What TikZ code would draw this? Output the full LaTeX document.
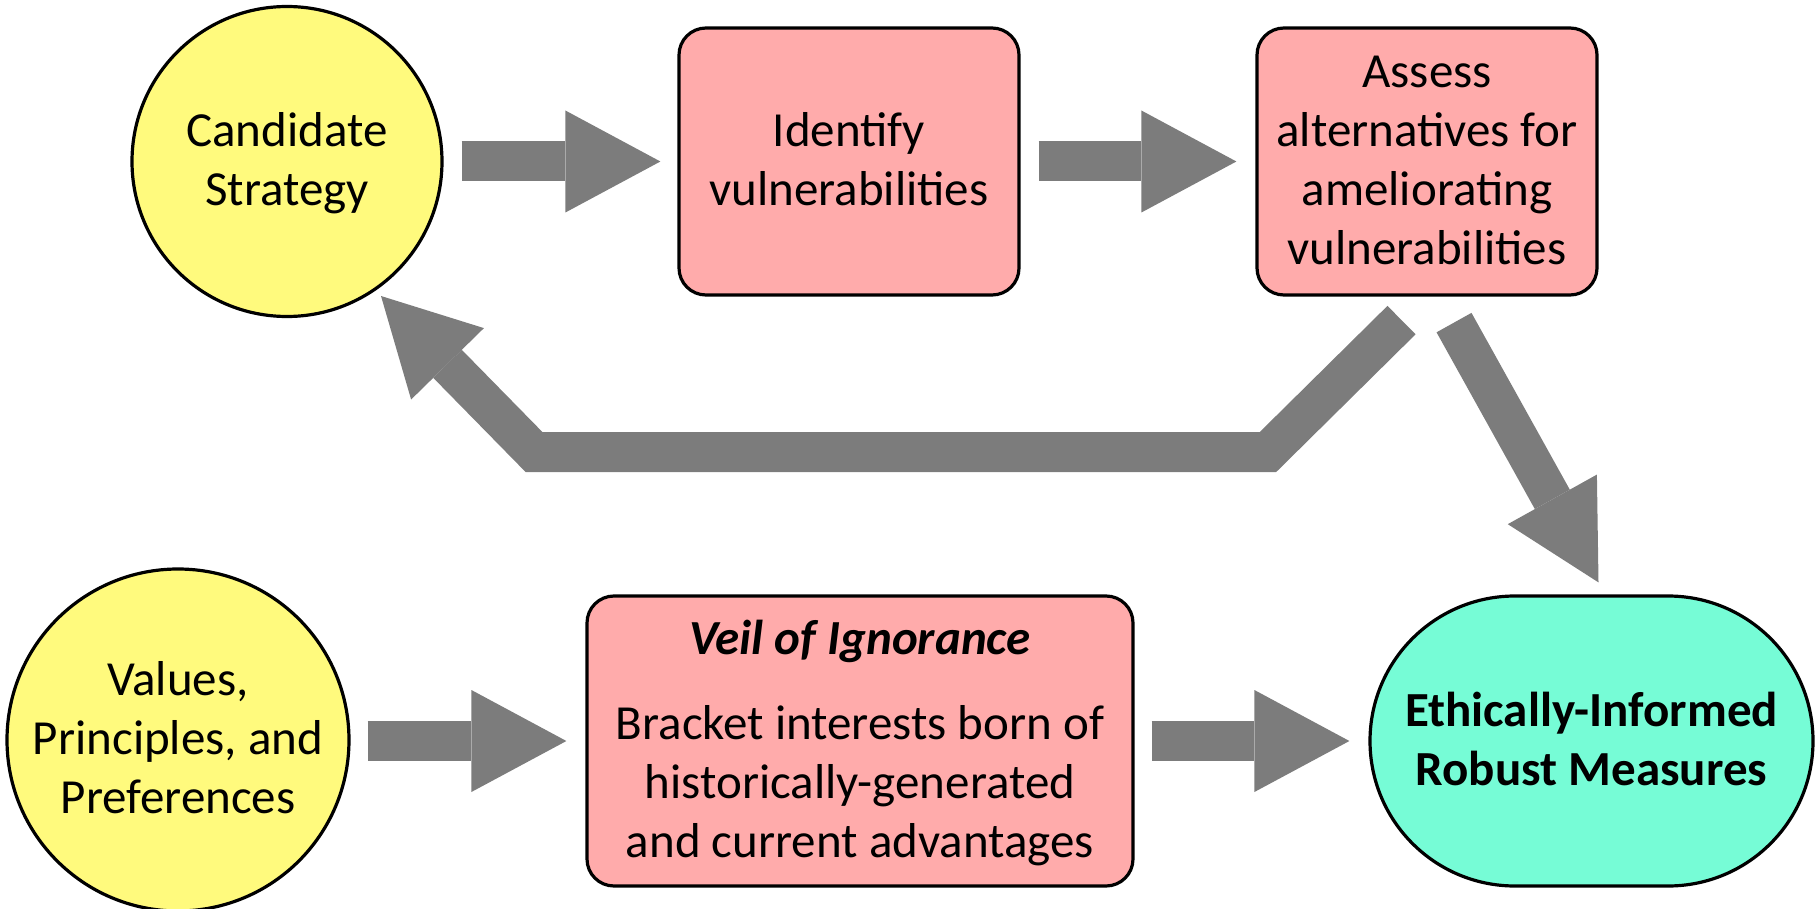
\documentclass[tikz,border=0pt]{standalone}
\usepackage{fontspec}
\setmainfont{Carlito}
\usetikzlibrary{arrows.meta,shapes.misc,calc}

\definecolor{candyellow}{RGB}{255,250,125}
\definecolor{steppink}{RGB}{255,171,171}
\definecolor{outcomegreen}{RGB}{118,252,214}
\definecolor{flowgray}{RGB}{124,124,124}

% uniform line box: 44pt above and 15pt below the baseline
\newcommand\lstrut{\rule[-15pt]{0pt}{59pt}}

\tikzset{
  shapebase/.style={draw=black, line width=3.2pt, inner sep=0pt, align=center,
    font=\fontsize{49}{59}\selectfont},
  roundnode/.style={shapebase, circle, fill=candyellow},
  stepbox/.style={shapebase, rectangle, rounded corners=27pt, fill=steppink},
  outcome/.style={shapebase, rounded rectangle, fill=outcomegreen,
    font=\fontsize{49}{59}\selectfont\bfseries},
  flow/.style={draw=flowgray, line width=40pt, line join=miter,
    -{Triangle[length=95pt,width=102pt,line width=0pt]}},
}

\begin{document}
\begin{tikzpicture}[x=1pt,y=-1pt]
\useasboundingbox (0,0) rectangle (1817,909);

% upper loop
\node[roundnode, minimum size=310pt] (cand) at (287,161.5)
  {\lstrut Candidate\\\lstrut Strategy};
\node[stepbox, minimum width=340pt, minimum height=267pt] (ident) at (849,161.5)
  {\lstrut Identify\\\lstrut vulnerabilities};
\node[stepbox, minimum width=340pt, minimum height=267pt] (assess) at (1427,161.5)
  {\lstrut Assess\\\lstrut alternatives for\\\lstrut ameliorating\\\lstrut vulnerabilities};

% lower row
\node[roundnode, minimum size=342pt] (values) at (178,740)
  {\lstrut Values,\\\lstrut Principles, and\\\lstrut Preferences};
\node[stepbox, minimum width=546pt, minimum height=290pt] (veil) at (860,741)
  {\lstrut\textbf{\textit{Veil of Ignorance}}\\[26pt]\lstrut Bracket interests born of\\\lstrut historically-generated\\\lstrut and current advantages};
\node[outcome, minimum width=443pt, minimum height=290pt] (eth) at (1591.5,741)
  {\lstrut Ethically-Informed\\\lstrut Robust Measures};

% block arrows
\draw[flow, shorten <=18pt, shorten >=17pt] (cand.east |- ident.west) -- (ident.west);
\draw[flow, shorten <=18pt, shorten >=19pt] (ident.east) -- (assess.west);
\draw[flow, shorten <=17pt, shorten >=19pt] (values.east |- veil.west) -- (veil.west);
\draw[flow, shorten <=17pt, shorten >=19pt] (veil.east) -- (eth.west);

\draw[flow] ($(assess.south)+(27,26)$) -- ($(eth.north)+(7,-12)$);

\coordinate (bendR) at (1268,452);
\coordinate (bendL) at (534,452);
\draw[flow] ($(assess.south)+(-25.5,23.5)$) -- (bendR) -- (bendL)
  -- ($(cand.center)+(94,134.5)$);
\end{tikzpicture}
\end{document}
